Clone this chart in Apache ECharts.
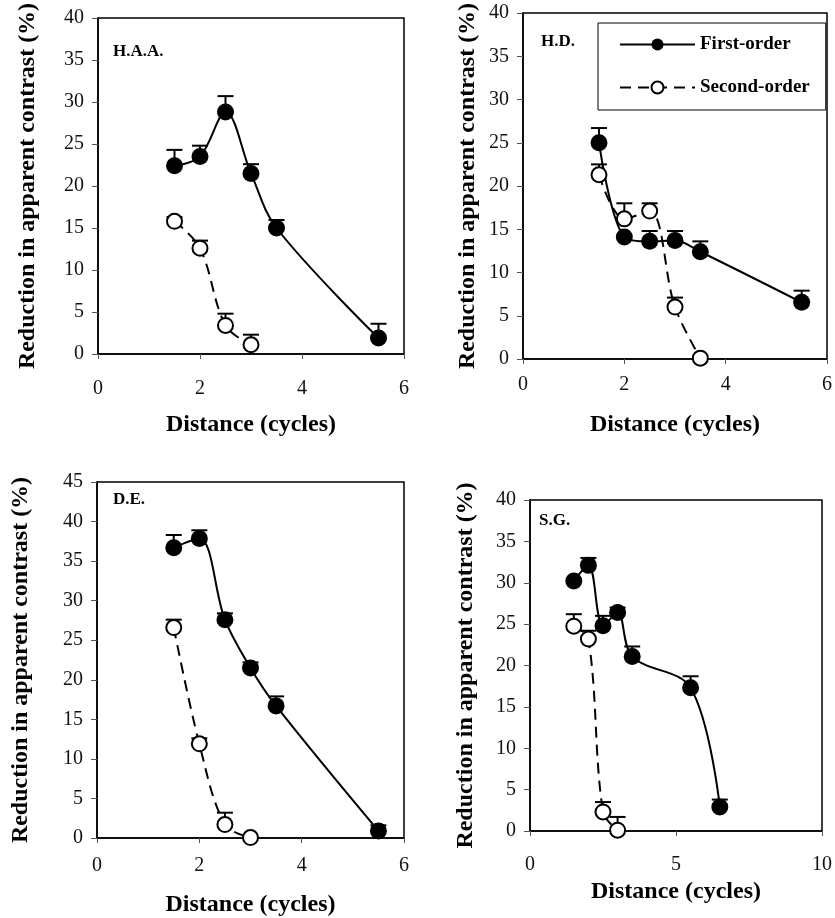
<!DOCTYPE html>
<html>
<head>
<meta charset="utf-8">
<script src="https://cdn.jsdelivr.net/npm/echarts@6/dist/echarts.min.js"></script>
<style>
  html, body { margin: 0; padding: 0; background: #fff; }
  #main { width: 835px; height: 918px; }
</style>
</head>
<body>
<div id="main"></div>
<script>
// panel labels
var panelNames = ['H.A.A.', 'H.D.', 'D.E.', 'S.G.'];

// H.A.A.
var haaX1 = [1.5, 2, 2.5, 3, 3.5, 5.5];
var haaFirst = [22.4, 23.5, 28.8, 21.5, 15.0, 1.9];
var haaFirstErr = [1.9, 1.3, 1.9, 1.1, 0.95, 1.7];
var haaX2 = [1.5, 2, 2.5, 3];
var haaSecond = [15.8, 12.6, 3.4, 1.1];
var haaSecondErr = [0.5, 0.9, 1.4, 1.2];

// H.D.
var hdX1 = [1.5, 2, 2.5, 3, 3.5, 5.5];
var hdFirst = [25.0, 14.1, 13.6, 13.7, 12.4, 6.55];
var hdFirstErr = [1.7, null, 1.2, 1.1, 1.2, 1.35];
var hdX2 = [1.5, 2, 2.5, 3, 3.5];
var hdSecond = [21.3, 16.2, 17.1, 6.0, 0.1];
var hdSecondErr = [1.2, 1.8, 0.9, 1.1, null];

// D.E.
var deX1 = [1.5, 2, 2.5, 3, 3.5, 5.5];
var deFirst = [36.7, 37.85, 27.6, 21.5, 16.7, 0.9];
var deFirstErr = [1.6, 1.05, 0.8, 0.7, 1.2, 0.7];
var deX2 = [1.5, 2, 2.5, 3];
var deSecond = [26.6, 11.9, 1.7, 0.05];
var deSecondErr = [1.0, 0.7, 1.5, null];

// S.G.
var sgX1 = [1.5, 2, 2.5, 3, 3.5, 5.5, 6.5];
var sgFirst = [30.2, 32.1, 24.8, 26.4, 21.1, 17.3, 2.9];
var sgFirstErr = [null, 0.9, 1.2, 0.6, 1.2, 1.4, 0.9];
var sgX2 = [1.5, 2, 2.5, 3];
var sgSecond = [24.75, 23.2, 2.3, 0.1];
var sgSecondErr = [1.45, 1.0, 1.2, 1.6];

// axis ranges / ticks
var xMax = [6, 6, 6, 10];
var xStep = [2, 2, 2, 5];
var yMax = [40, 40, 45, 40];
var yStep = 5;

var panels = [
  {x1: haaX1, y1: haaFirst, e1: haaFirstErr, x2: haaX2, y2: haaSecond, e2: haaSecondErr},
  {x1: hdX1, y1: hdFirst, e1: hdFirstErr, x2: hdX2, y2: hdSecond, e2: hdSecondErr},
  {x1: deX1, y1: deFirst, e1: deFirstErr, x2: deX2, y2: deSecond, e2: deSecondErr},
  {x1: sgX1, y1: sgFirst, e1: sgFirstErr, x2: sgX2, y2: sgSecond, e2: sgSecondErr}
];

var serif = 'Liberation Serif, Times New Roman, serif';

// layout of the four plots
var grids = [
  {left: 98, top: 18, width: 306, height: 336},
  {left: 523, top: 13, width: 311, height: 346},
  {left: 97, top: 482, width: 307, height: 359},
  {left: 530, top: 500, width: 295, height: 331}
];
var xNameGap = [59, 54, 55, 49];
var xLabelMargin = [25, 16, 18, 24];
var yNameGap = [58, 43, 64, 52];
var labelPos = [[113, 52], [541, 42], [113, 500], [539, 521]];

function pairs(xs, ys) {
  return xs.map(function (x, i) { return [x, ys[i]]; });
}
function errPairs(xs, ys, es) {
  var out = [];
  xs.forEach(function (x, i) {
    if (es[i] != null) out.push([x, ys[i], es[i]]);
  });
  return out;
}

function renderErr(params, api) {
  var x = api.value(0), y = api.value(1), e = api.value(2);
  var p0 = api.coord([x, y]);
  var p1 = api.coord([x, y + e]);
  var st = {stroke: '#000', lineWidth: 2};
  return {
    type: 'group',
    children: [
      {type: 'line', shape: {x1: p0[0], y1: p0[1], x2: p1[0], y2: p1[1]}, style: st},
      {type: 'line', shape: {x1: p1[0] - 8, y1: p1[1], x2: p1[0] + 8, y2: p1[1]}, style: st}
    ]
  };
}

var option = {
  animation: false,
  backgroundColor: '#fff',
  grid: grids.map(function (g) {
    return {left: g.left, top: g.top, width: g.width, height: g.height,
      show: true, borderColor: '#000', borderWidth: 1.5, containLabel: false};
  }),
  xAxis: grids.map(function (g, i) {
    return {
      type: 'value', gridIndex: i, min: 0, max: xMax[i], interval: xStep[i],
      name: 'Distance (cycles)', nameLocation: 'middle', nameGap: xNameGap[i],
      nameTextStyle: {fontFamily: serif, fontWeight: 'bold', fontSize: 24, color: '#000'},
      axisLine: {show: true, lineStyle: {color: '#000', width: 1.5}},
      axisTick: {show: true, length: 5, lineStyle: {color: '#555', width: 1}},
      axisLabel: {fontFamily: serif, fontSize: 20, color: '#111', margin: xLabelMargin[i]},
      splitLine: {show: false}
    };
  }),
  yAxis: grids.map(function (g, i) {
    return {
      type: 'value', gridIndex: i, min: 0, max: yMax[i], interval: yStep,
      name: 'Reduction in apparent contrast (%)', nameLocation: 'middle', nameRotate: 90,
      nameGap: yNameGap[i],
      nameTextStyle: {fontFamily: serif, fontWeight: 'bold', fontSize: 24, color: '#000'},
      axisLine: {show: true, lineStyle: {color: '#000', width: 1.5}},
      axisTick: {show: true, length: 6, lineStyle: {color: '#555', width: 1}},
      axisLabel: {fontFamily: serif, fontSize: 20, color: '#111', margin: 14},
      splitLine: {show: false}
    };
  }),
  legend: {
    data: ['First-order', 'Second-order'],
    orient: 'vertical',
    left: 598, top: 23,
    padding: [12, 16, 13, 21],
    itemGap: 24,
    itemWidth: 75,
    itemHeight: 15,
    borderColor: '#000', borderWidth: 1,
    backgroundColor: '#fff',
    selectedMode: false,
    textStyle: {fontFamily: serif, fontWeight: 'bold', fontSize: 19, color: '#000'}
  },
  graphic: panelNames.map(function (n, i) {
    return {type: 'text', left: labelPos[i][0], top: labelPos[i][1] - 9, z: 50,
      style: {text: n, font: 'bold 17px ' + serif, fill: '#000'}};
  }),
  series: []
};

panels.forEach(function (p, i) {
  option.series.push({
    type: 'custom', xAxisIndex: i, yAxisIndex: i, z: 1,
    renderItem: renderErr, data: errPairs(p.x1, p.y1, p.e1)
  });
  option.series.push({
    type: 'custom', xAxisIndex: i, yAxisIndex: i, z: 1,
    renderItem: renderErr, data: errPairs(p.x2, p.y2, p.e2)
  });
  option.series.push({
    name: 'First-order', type: 'line', xAxisIndex: i, yAxisIndex: i, z: 3,
    smooth: 0.35, symbol: 'circle', symbolSize: 17, showAllSymbol: true,
    lineStyle: {color: '#000', width: 2},
    itemStyle: {color: '#000', borderColor: '#000', borderWidth: 0},
    data: pairs(p.x1, p.y1)
  });
  option.series.push({
    name: 'Second-order', type: 'line', xAxisIndex: i, yAxisIndex: i, z: 3,
    smooth: 0.35, symbol: 'circle', symbolSize: 15, showAllSymbol: true,
    lineStyle: {color: '#000', width: 2, type: [11, 7]},
    itemStyle: {color: '#fff', borderColor: '#000', borderWidth: 2},
    data: pairs(p.x2, p.y2)
  });
});

echarts.init(document.getElementById('main'), null, {renderer: 'canvas'}).setOption(option);
</script>
</body>
</html>
